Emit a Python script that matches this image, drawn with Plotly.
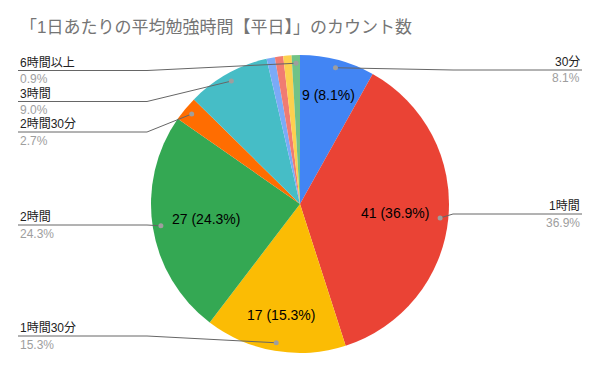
import math
import plotly.graph_objects as go

# ---- data ----
categories = ["30分", "1時間", "1時間30分", "2時間", "2時間30分", "3時間",
              "4時間", "4時間30分", "5時間", "6時間以上"]
counts = [9, 41, 17, 27, 3, 10, 1, 1, 1, 1]
colors = ["#4285f4", "#ea4335", "#fbbc04", "#34a853", "#ff6d01", "#46bdc6",
          "#7baaf7", "#f07b72", "#fcd04f", "#71c287"]
inside_labeled = ["30分", "1時間", "1時間30分", "2時間"]
# callout label: side and underline y (px)
callout_side = {"30分": "right", "1時間": "right", "1時間30分": "left", "2時間": "left",
                "2時間30分": "left", "3時間": "left", "6時間以上": "left"}
callout_y = {"30分": 70, "1時間": 214, "1時間30分": 336, "2時間": 225,
             "2時間30分": 132, "3時間": 101.5, "6時間以上": 70.5}
title = "「1日あたりの平均勉強時間【平日】」のカウント数"

W, H = 600, 371
CX, CY, R = 300, 204, 149
FONT = "Arial, 'Liberation Sans', 'Noto Sans CJK JP', sans-serif"


def px(x):
    return x / W


def py(y):
    return 1 - y / H


total = sum(counts)
mids = []
cum = 0
for v in counts:
    mids.append((cum + v / 2) / total * 2 * math.pi)
    cum += v


def pt(theta, r):
    return CX + r * math.sin(theta), CY - r * math.cos(theta)


fig = go.Figure(go.Pie(
    values=counts, labels=categories, sort=False, direction="clockwise", rotation=0,
    marker=dict(colors=colors, line=dict(width=0)), textinfo="none",
    domain=dict(x=[px(CX - R), px(CX + R)], y=[py(CY + R), py(CY - R)]),
    showlegend=False, hoverinfo="label+value+percent",
))

annotations = []
shapes = []

annotations.append(dict(text=title, x=px(18), y=py(27), xref="paper", yref="paper",
                        xanchor="left", yanchor="middle", showarrow=False,
                        font=dict(size=17, color="#757575", family=FONT)))

for i, cat in enumerate(categories):
    v = counts[i]
    pct = v / total * 100
    if cat in inside_labeled:
        frac = 0.755 if pct < 20 else 0.64
        x, y = pt(mids[i], R * frac)
        annotations.append(dict(text=f"{v} ({pct:.1f}%)", x=px(x), y=py(y),
                                xref="paper", yref="paper", showarrow=False,
                                xanchor="center", yanchor="middle",
                                font=dict(size=14, color="#000000", family=FONT)))
    if cat in callout_side:
        side = callout_side[cat]
        uy = callout_y[cat]
        dx, dy = pt(mids[i], R * 0.945)
        if side == "left":
            x_text, x_elbow, anchor = 18, 147, "left"
        else:
            x_text, x_elbow, anchor = 582, 453, "right"
        shapes.append(dict(type="line", xref="paper", yref="paper",
                           x0=px(x_text), y0=py(uy), x1=px(x_elbow), y1=py(uy),
                           line=dict(color="#666666", width=1)))
        shapes.append(dict(type="line", xref="paper", yref="paper",
                           x0=px(x_elbow), y0=py(uy), x1=px(dx), y1=py(dy),
                           line=dict(color="#666666", width=1)))
        shapes.append(dict(type="circle", xref="paper", yref="paper",
                           x0=px(dx - 2.5), x1=px(dx + 2.5), y0=py(dy + 2.5), y1=py(dy - 2.5),
                           fillcolor="#9e9e9e", line=dict(width=0)))
        annotations.append(dict(text=cat, x=px(x_text), y=py(uy - 8), xref="paper",
                                yref="paper", showarrow=False, xanchor=anchor,
                                yanchor="middle",
                                font=dict(size=12, color="#222222", family=FONT)))
        annotations.append(dict(text=f"{pct:.1f}%", x=px(x_text), y=py(uy + 8.5),
                                xref="paper", yref="paper", showarrow=False,
                                xanchor=anchor, yanchor="middle",
                                font=dict(size=12, color="#9e9e9e", family=FONT)))

fig.update_layout(width=W, height=H, margin=dict(l=0, r=0, t=0, b=0),
                  paper_bgcolor="white", plot_bgcolor="white",
                  annotations=annotations, shapes=shapes,
                  font=dict(family=FONT))
fig.write_html("out.html", config={"displayModeBar": False},
               post_script="document.body.style.margin='0';")
